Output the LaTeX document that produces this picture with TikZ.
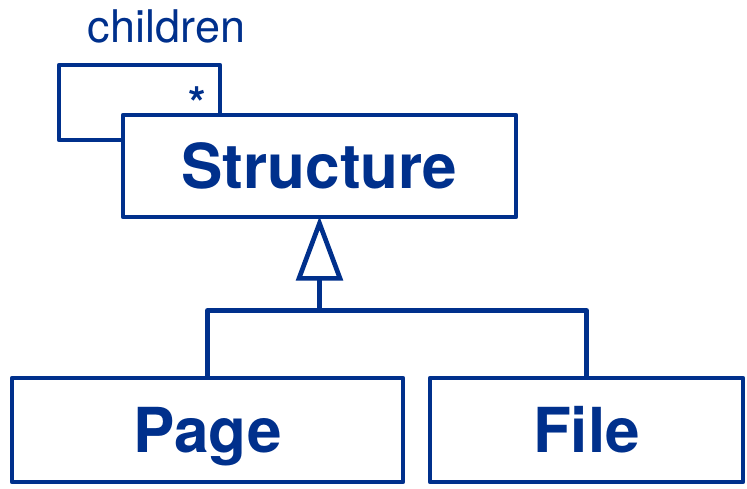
\documentclass[tikz,border=0pt]{standalone}
\usepackage{fontspec}
\setmainfont{TeX Gyre Heros}
\definecolor{umlblue}{HTML}{00308C}
\begin{document}
\begin{tikzpicture}[x=1pt,y=-1pt,
  classbox/.style={draw=umlblue, line width=4.7pt, line join=round, inner sep=0pt,
    text=umlblue, text height=44.5pt, text depth=0pt,
    font=\fontsize{62}{70}\selectfont\bfseries},
  wire/.style={draw=umlblue, line width=4.7pt, line join=round, line cap=round},
  label/.style={text=umlblue, inner sep=0pt, font=\fontsize{45}{50}\selectfont}]
\useasboundingbox (0,0) rectangle (747,489);

% classes
\node[classbox, minimum width=393pt, minimum height=102pt] (structure) at (319.5,166) {Structure};
\node[classbox, minimum width=391pt, minimum height=104pt] (page) at (207.5,430) {Page};
\node[classbox, minimum width=313pt, minimum height=104pt] (file) at (586.5,430) {File};

% self association "children"
\coordinate (loopA) at (59,140);
\coordinate (loopB) at (59,65);
\coordinate (loopC) at (220,65);
\draw[wire] (structure.west |- loopA) -- (loopA) -- (loopB) -- (loopC) -- (loopC |- structure.north);
\node[label, anchor=base] (role) at (166.5,43) {children};
\node[label, anchor=base, font=\fontsize{45}{50}\selectfont\bfseries] (mult) at (197.5,120) {*};

% generalization: hollow triangle and the branching line below it
\coordinate (apex) at ([yshift=-4pt]structure.south);
\coordinate (tribase) at ([yshift=-59pt]structure.south);
\draw[wire, line join=miter, fill=white] (apex) -- ([xshift=-20.5pt]tribase) -- ([xshift=20.5pt]tribase) -- cycle;
\coordinate (junction) at ([yshift=-32pt]tribase);
\draw[wire] (tribase) -- (junction);
\draw[wire] (page.north) |- (junction) -| (file.north);
\end{tikzpicture}
\end{document}
